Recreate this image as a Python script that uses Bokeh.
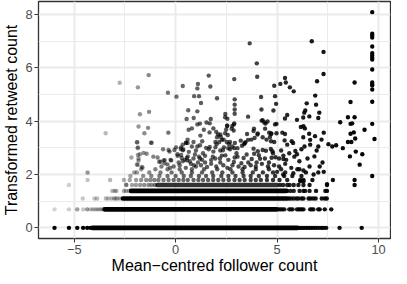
import numpy as np
from bokeh.plotting import figure
from bokeh.models import Range1d, FixedTicker, ColumnDataSource
from bokeh.embed import file_html
from bokeh.resources import INLINE

# ---------------- data ----------------
x_ticks = [-5, 0, 5, 10]
x_tick_labels = {-5: "\u22125", 0: "0", 5: "5", 10: "10"}
y_ticks = [0, 2, 4, 6, 8]
x_title = "Mean\u2212centred follower count"
y_title = "Transformed retweet count"

# solid cores of the discrete retweet levels (many overlapping tweets)
band_y = [0.0, 0.693, 1.099, 1.386]
band_x0 = [-4.1, -3.5, -2.6, -2.2]
band_x1 = [6.0, 4.95, 5.5, 5.45]
# semi-dense level
semi_y = [1.609]
semi_x0 = [-0.9]
semi_x1 = [5.0]

# heavily stacked points at the lowest follower counts (retweet level 0)
stack_x = [-5.97, -5.26, -4.85, -4.56, -4.36, -4.2]
stack_y = [0.0, 0.0, 0.0, 0.0, 0.0, 0.0]

# individual points on discrete retweet levels
lvl_000_x = [6.05, 6.12, 6.2, 6.28, 6.35, 6.45, 6.52, 6.6, 6.68, 6.78, 6.88, 6.98,
             7.1, 7.2, 7.3, 7.42, 8.08, 9.17]
lvl_069_x = [-5.97, -5.26, -4.85, -4.85, -4.56, -4.36, -4.36, -4.2, -4.1, -4.0, -3.9,
             -3.82, -3.72, -3.64, -3.56, 4.98, 5.05, 5.13, 5.2, 5.28, 5.36, 5.6, 5.68,
             5.76, 5.98, 6.06, 6.14, 6.22, 6.3, 6.63, 6.71, 6.79, 7.03, 7.1, 7.35, 7.67]
lvl_110_x = [-4.58, -4.0, -3.87, -3.44, -3.32, -3.16, -3.03, -2.96, -2.87, -2.74, 5.6,
             5.7, 5.82, 5.95, 6.05, 6.2, 6.3, 6.55, 6.65, 6.78, 6.9, 7.2, 7.35, 7.45]
lvl_139_x = [-3.12, -3.0, -2.92, -2.55, -2.45, -2.31, 5.5, 5.66, 5.82, 6.11, 6.3, 6.38,
             6.6, 6.92, 7.38, 7.46]
lvl_161_x = [-5.26, -2.43, -2.15, -1.96, -1.75, -1.55, -1.34, -1.18, -1.02, 5.15, 5.3,
             5.5, 5.62, 5.82, 6.05, 6.3, 6.6, 7.46, 8.82]
lvl_179_x = [-4.34, -3.23, -2.55, -2.26, -1.95, -1.7, -1.45, -1.25, -1.05, -0.85, -0.6,
             -0.35, -0.1, 0.15, 0.38, 0.6, 0.88, 1.12, 1.35, 1.6, 1.85, 2.1, 2.35,
             2.62, 2.9, 3.15, 3.4, 3.7, 3.95, 4.2, 4.5, 4.8, 5.12, 5.5, 6.14, 6.3,
             6.74, 7.75, 8.82]
lvl_195_x = [-2.23, -1.6, -1.2, -0.8, -0.4, 0.0, 0.4, 0.75, 1.15, 1.5, 1.85, 2.25,
             2.6, 2.95, 3.35, 3.7, 4.1, 4.5, 4.9, 5.35, 5.75, 6.2, 9.69]
lvl_208_x = [-4.34, -2.04, -1.91, -1.3, -0.75, -0.2, 0.3, 0.8, 1.3, 1.8, 2.3, 2.8, 3.3,
             3.8, 4.3, 4.8, 5.4, 6.42, 7.03]
lvl_220_x = [-1.7, -1.0, -0.4, 0.2, 0.8, 1.4, 2.05, 2.7, 3.3, 3.95, 4.6, 5.2, 6.1]

# free scatter above the dense levels, grouped by region, (x, y)
top_column_x = 9.69
top_column_y = [8.09, 7.28, 7.21, 7.14, 6.8, 6.55, 6.46, 6.38, 6.31, 5.94, 5.45, 5.38,
                5.35, 5.19, 4.73, 3.9]

high_pts = [(6.71, 7.0), (7.29, 6.6), (3.65, 6.92), (4.0, 6.17), (7.29, 5.77),
            (6.97, 5.5), (8.82, 5.45), (4.02, 5.67), (1.63, 5.71), (2.89, 5.58),
            (-1.33, 5.73), (-2.76, 5.44), (-1.86, 5.27), (-0.38, 5.07), (0.04, 4.92),
            (0.35, 5.32), (0.91, 4.94), (1.1, 5.4), (1.07, 5.23), (1.71, 5.3),
            (1.15, 4.94), (1.25, 4.68), (2.04, 4.86), (2.91, 4.82), (2.91, 4.62),
            (2.91, 4.44), (2.91, 4.28), (4.86, 5.33), (5.16, 5.4), (5.39, 5.62),
            (5.43, 5.45), (5.63, 5.27), (5.82, 5.12), (4.21, 4.91), (4.9, 4.94),
            (4.95, 4.65), (4.23, 4.44), (4.82, 4.4), (6.88, 4.96), (6.46, 4.67),
            (6.92, 4.62), (8.62, 4.72), (1.07, 4.37)]

upper_mid_pts = [(7.08, 4.32), (7.03, 4.12), (6.39, 4.4), (6.34, 4.32), (6.29, 4.14),
                 (6.59, 4.18), (5.5, 4.23), (5.39, 4.1), (5.98, 4.05), (8.49, 4.15),
                 (8.82, 4.15), (8.11, 3.96), (8.62, 3.9), (9.31, 3.68), (4.97, 3.9),
                 (6.17, 3.78), (6.3, 3.81), (6.37, 3.73), (6.58, 3.53), (6.87, 3.44),
                 (6.63, 3.3), (7.3, 3.57), (5.26, 3.57), (5.39, 3.52), (5.37, 3.28),
                 (5.5, 3.12), (5.72, 3.25), (5.79, 3.18), (6.29, 3.4), (6.35, 3.05),
                 (7.53, 3.14), (7.72, 3.05), (7.91, 3.1), (8.49, 3.22), (8.66, 3.22),
                 (8.85, 3.35), (8.78, 3.58), (8.62, 3.53), (8.7, 3.92), (9.8, 3.33),
                 (-1.76, 4.26), (-1.31, 4.35), (-3.45, 3.55), (-1.83, 3.8), (-1.36, 3.75),
                 (-1.54, 3.55), (-1.91, 3.21), (-1.22, 3.19), (-1.86, 3.02), (0.62, 4.41),
                 (0.54, 4.08), (0.89, 4.12), (0.64, 3.68), (0.8, 3.73), (-0.36, 3.57),
                 (3.57, 4.17), (2.45, 4.27), (2.55, 4.09), (2.44, 4.15), (1.2, 3.91),
                 (1.52, 3.95), (1.73, 4.08), (1.68, 3.92), (1.86, 3.73), (2.0, 3.6),
                 (2.2, 3.5), (2.89, 3.92), (2.79, 3.82), (4.24, 4.02), (4.43, 3.91),
                 (3.52, 3.52), (3.84, 3.63), (4.03, 3.5), (4.7, 3.54), (2.54, 3.83),
                 (2.54, 3.83), (1.39, 3.68), (1.67, 3.58), (4.53, 3.99), (4.9, 3.88),
                 (2.87, 3.88), (2.76, 3.72), (2.86, 3.65), (1.07, 3.88), (2.44, 3.55),
                 (2.49, 3.69), (2.57, 3.48), (3.86, 3.72), (4.41, 3.72), (4.72, 3.53),
                 (4.97, 3.55), (4.65, 3.41), (4.29, 4.04), (4.37, 3.95), (4.61, 3.57),
                 (4.05, 3.54), (1.22, 3.46)]

mid_cloud_pts = [(4.48, 3.31), (4.86, 3.22), (3.57, 3.3), (3.44, 3.21), (3.37, 3.14),
                 (2.04, 3.4), (2.28, 3.3), (2.15, 3.22), (2.02, 3.14), (1.96, 3.02),
                 (2.38, 3.02), (1.31, 3.25), (1.63, 2.95), (1.68, 3.03), (1.86, 2.86),
                 (1.83, 2.67), (1.75, 2.54), (1.15, 2.67), (2.63, 3.14), (2.6, 2.99),
                 (2.68, 2.95), (2.89, 2.99), (3.05, 2.99), (3.27, 3.08), (3.84, 2.97),
                 (4.05, 2.87), (3.87, 2.78), (4.16, 2.59), (3.99, 2.45), (4.29, 2.92),
                 (4.45, 2.89), (4.69, 2.96), (4.77, 2.87), (4.73, 2.63), (4.92, 2.65),
                 (5.31, 2.71), (5.31, 2.58), (2.91, 2.64), (3.05, 2.67), (2.87, 2.47),
                 (3.24, 2.42), (3.58, 2.45), (2.18, 2.6), (2.28, 2.71), (2.33, 2.91),
                 (2.2, 2.9), (0.59, 3.31), (0.51, 3.18), (0.88, 3.22), (1.07, 3.05),
                 (0.02, 3.02), (0.27, 3.02), (1.96, 3.22), (2.09, 3.5), (2.23, 3.41),
                 (2.36, 3.31), (2.52, 3.22), (2.68, 3.22), (2.79, 3.05), (2.92, 3.18),
                 (3.21, 3.27), (3.41, 3.18), (3.73, 3.31), (3.89, 3.37), (4.29, 3.4),
                 (4.7, 3.25), (0.15, 2.45), (0.45, 2.55), (0.7, 2.5), (0.9, 2.35),
                 (1.1, 2.45), (1.3, 2.55), (0.3, 2.62), (0.65, 2.85), (1.0, 2.9),
                 (1.45, 2.7), (1.5, 3.0), (1.2, 3.1), (0.8, 3.05)]

left_cloud_pts = [(-2.18, 2.64), (-1.76, 2.76), (-1.58, 2.81), (-1.43, 2.78),
                  (-1.83, 2.6), (-1.87, 2.36), (-1.63, 2.26), (-0.89, 2.64),
                  (-0.59, 2.53), (-0.22, 2.53), (0.09, 2.76), (0.38, 2.94),
                  (-0.27, 2.25), (0.6, 2.68), (0.57, 2.53), (0.88, 2.6), (-1.86, 2.73),
                  (-1.83, 2.52), (-1.91, 2.38), (-1.67, 2.28), (-0.62, 2.95),
                  (-0.35, 2.92), (0.25, 2.96), (0.35, 2.91), (-1.87, 2.99),
                  (-1.89, 3.21), (-1.18, 3.19), (0.51, 3.19), (-1.1, 2.67), (-0.81, 2.48),
                  (-0.54, 2.54), (-0.3, 2.86), (-0.06, 2.92), (0.27, 2.73), (0.35, 3.12),
                  (0.59, 3.18), (-4.34, 2.07), (-2.44, 1.62)]

low_cloud_pts = [(-0.7, 2.3), (-0.4, 2.38), (-0.1, 2.3), (0.2, 2.35), (0.5, 2.25),
                 (0.75, 2.4), (1.0, 2.3), (1.25, 2.35), (1.55, 2.28), (1.75, 2.4),
                 (2.0, 2.3), (2.35, 2.35), (2.55, 2.25), (2.8, 2.35), (3.1, 2.3),
                 (3.4, 2.28), (3.7, 2.35), (3.95, 2.3), (4.25, 2.4), (4.55, 2.3),
                 (4.85, 2.35), (5.1, 2.3), (5.4, 2.4), (5.7, 2.25), (-0.75, 2.48),
                 (-0.55, 2.42), (-0.25, 2.55), (0.1, 2.7), (0.35, 2.5), (0.55, 2.62),
                 (0.95, 2.75), (1.2, 2.6), (1.35, 2.8), (1.45, 2.45), (1.95, 2.6),
                 (2.2, 2.45), (2.45, 2.72), (2.6, 2.55), (3.0, 2.8), (3.35, 2.62),
                 (3.5, 2.75), (3.75, 2.58), (4.1, 2.72), (4.4, 2.6), (4.6, 2.45),
                 (4.8, 2.8)]

right_cloud_pts = [(5.9, 2.88), (5.98, 2.76), (5.85, 2.67), (6.84, 2.68), (7.24, 2.45),
                   (8.59, 2.68), (8.88, 2.86), (9.2, 2.76), (9.07, 2.37), (5.1, 2.6),
                   (5.2, 2.9), (5.45, 2.55), (5.6, 2.8), (6.1, 2.5), (6.2, 2.95),
                   (6.5, 2.6), (6.6, 2.3), (6.95, 2.9), (7.1, 2.3), (5.0, 2.1),
                   (5.3, 2.0), (5.8, 2.05), (6.0, 2.2), (6.3, 2.15), (6.8, 2.0),
                   (7.3, 2.1), (6.63, 3.12), (7.03, 3.05), (7.19, 3.31), (8.24, 2.99),
                   (7.46, 1.64), (6.14, 1.75), (6.3, 1.75)]

# style mapping: alpha scale over follower count (like scale_alpha)
alpha_knot_x = [-6.5, -4.5, -2.5, -1.5, 0.0, 2.0, 4.0, 6.0, 9.7]
alpha_knot_a = [0.15, 0.22, 0.32, 0.45, 0.58, 0.66, 0.74, 0.88, 1.0]

# ---------------- assemble ----------------
px, py = [], []
for lvl, xs in [(0.0, lvl_000_x), (0.693, lvl_069_x), (1.099, lvl_110_x),
                (1.386, lvl_139_x), (1.609, lvl_161_x), (1.792, lvl_179_x),
                (1.946, lvl_195_x), (2.079, lvl_208_x), (2.197, lvl_220_x)]:
    px += list(xs)
    py += [lvl] * len(xs)
px += [top_column_x] * len(top_column_y)
py += list(top_column_y)
for grp in [high_pts, upper_mid_pts, mid_cloud_pts, left_cloud_pts, low_cloud_pts,
            right_cloud_pts]:
    px += [p_[0] for p_ in grp]
    py += [p_[1] for p_ in grp]

px = np.array(px)
py = np.array(py)
alpha = np.interp(px, alpha_knot_x, alpha_knot_a)
src = ColumnDataSource(dict(x=px, y=py, a=alpha))

# ---------------- figure ----------------
# canvas spans page y 8..284; the negative bottom margin cancels the body's
# bottom margin so the page still fits the 284px window without scrolling
X0, X1, Y0, Y1 = -6.76, 10.59, -0.40, 8.49
p = figure(width=391, height=276, output_backend="svg", toolbar_location=None,
           x_range=Range1d(X0, X1), y_range=Range1d(Y0, Y1),
           min_border_left=32, min_border_right=1, min_border_top=1,
           min_border_bottom=30)
p.styles = {"margin-bottom": "-8px"}
p.background_fill_color = "white"
p.border_fill_color = "white"
p.outline_line_color = "#333333"
p.outline_line_width = 1.3

p.xgrid.ticker = FixedTicker(ticks=x_ticks, minor_ticks=[-2.5, 2.5, 7.5])
p.ygrid.ticker = FixedTicker(ticks=y_ticks, minor_ticks=[1, 3, 5, 7])
for g in (p.xgrid, p.ygrid):
    g.grid_line_color = "#EBEBEB"
    g.grid_line_width = 2
    g.minor_grid_line_color = "#EBEBEB"
    g.minor_grid_line_width = 1

p.xaxis.ticker = FixedTicker(ticks=x_ticks)
p.yaxis.ticker = FixedTicker(ticks=y_ticks)
p.xaxis.major_label_overrides = x_tick_labels
p.xaxis.axis_label = x_title
p.yaxis.axis_label = y_title
for ax in (p.xaxis, p.yaxis):
    ax.axis_line_color = None
    ax.major_tick_line_color = "#333333"
    ax.major_tick_line_width = 1
    ax.major_tick_out = 4
    ax.major_tick_in = 0
    ax.minor_tick_out = 0
    ax.minor_tick_in = 0
    ax.major_label_text_color = "#4D4D4D"
    ax.major_label_text_font = "Liberation Sans"
    ax.major_label_text_font_size = "12.8px"
    ax.major_label_text_line_height = 1.0
    ax.major_label_standoff = 2
    ax.axis_label_text_font = "Liberation Sans"
    ax.axis_label_text_font_size = "16px"
    ax.axis_label_text_font_style = "normal"
    ax.axis_label_text_color = "black"
    ax.axis_label_text_line_height = 1.0
    ax.axis_label_standoff = 0
p.yaxis.axis_label_standoff = 2

p.segment(x0=band_x0, y0=band_y, x1=band_x1, y1=band_y, line_color="black",
          line_width=4.6, line_cap="round")
p.segment(x0=semi_x0, y0=semi_y, x1=semi_x1, y1=semi_y, line_color="black",
          line_alpha=0.8, line_width=4.4, line_cap="round")
p.scatter(x=stack_x, y=stack_y, size=4.4, fill_color="black", line_color=None)
p.scatter(x="x", y="y", source=src, size=4.4, fill_color="black", fill_alpha="a",
          line_color=None)

open("out.html", "w").write(file_html(p, INLINE))
